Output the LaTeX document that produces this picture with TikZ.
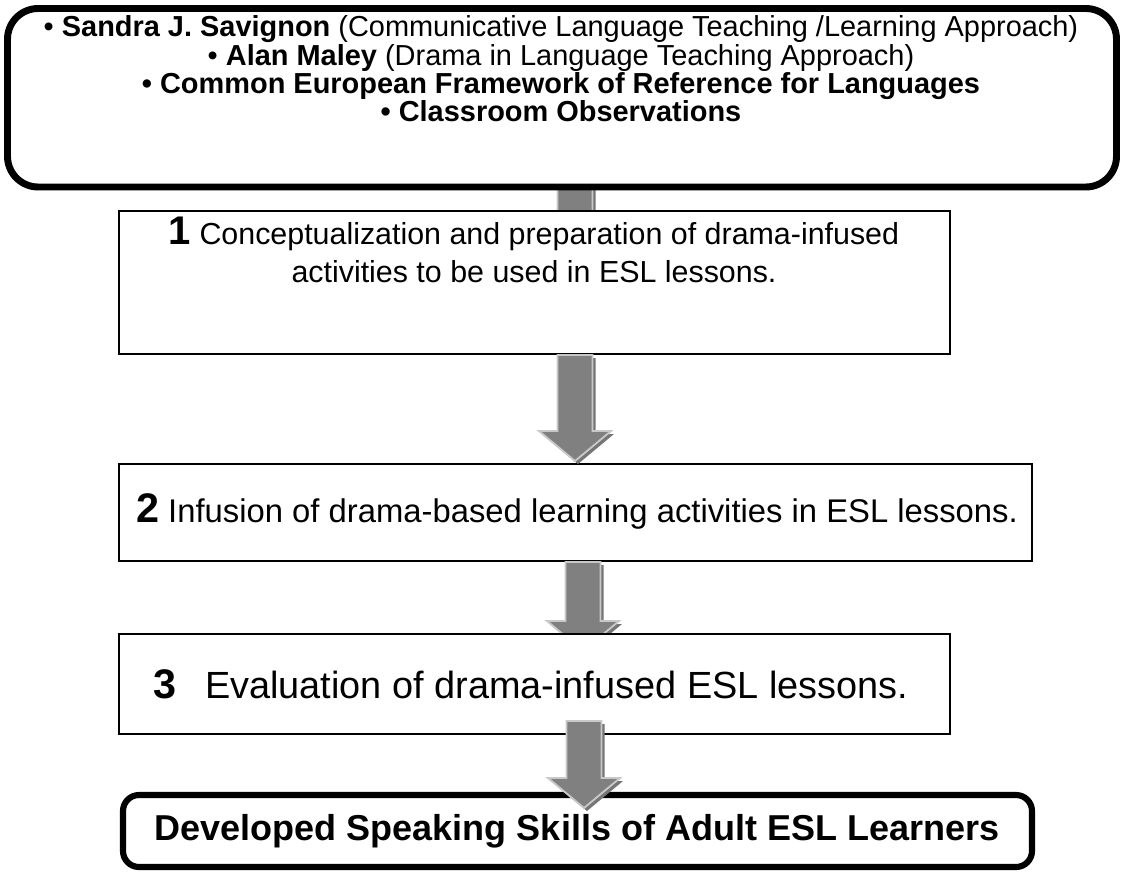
\documentclass[tikz,border=0pt]{standalone}
\usepackage{fontspec}
\setmainfont{Liberation Sans}
\usetikzlibrary{positioning,calc,fit}

\definecolor{arrowgray}{HTML}{808080}
\definecolor{arrowedge}{HTML}{C8C8C8}
\definecolor{arrowshade}{HTML}{767676}

\tikzset{
    framebox/.style={draw, line width=5.2pt, fill=white, inner sep=0pt}, % riquadri spessi
    stepbox/.style={draw, line width=1.3pt, fill=white, inner sep=0pt}, % fasi
    srctext/.style={align=center, inner sep=0pt, font=\fontsize{21.7}{21.2}\selectfont},
    steptext/.style={align=center, inner sep=0pt, font=\fontsize{22.8}{29}\selectfont},
    arrowbody/.style={fill=arrowgray, draw=arrowedge, line width=1.4pt},
    arrowshadow/.style={fill=arrowshade},
}

% freccia a blocco verso il basso: #1 inizio, #2 punta
\newcommand{\flowarrow}[2]{%
    \fill[arrowshadow] ($(#1)+(-14.5,3)$) -- ($(#2)+(-14.5,-27)$) -- ($(#2)+(-33,-27)$) -- ($(#2)+(3,3)$)
        -- ($(#2)+(39,-27)$) -- ($(#2)+(20.5,-27)$) -- ($(#1)+(20.5,3)$) -- cycle;
    \filldraw[arrowbody] ($(#1)+(-17.5,0)$) -- ($(#2)+(-17.5,-30)$) -- ($(#2)+(-36,-30)$) -- (#2)
        -- ($(#2)+(36,-30)$) -- ($(#2)+(17.5,-30)$) -- ($(#1)+(17.5,0)$) -- cycle;
}

\begin{document}
\begin{tikzpicture}[x=0.75pt, y=-0.75pt]
    \useasboundingbox (0,0) rectangle (1121,882);

    % Frecce (punti)
    \coordinate (a0top) at (575,150);
    \coordinate (a0tip) at (575,300);
    \coordinate (a1top) at (575,355);
    \coordinate (a1tip) at (575,461);
    \coordinate (a2top) at (583,562);
    \coordinate (a2tip) at (583,651);
    \coordinate (a3top) at (584,721);
    \coordinate (a3tip) at (584,808);

    \flowarrow{a0top}{a0tip}

    % Fonti
    \node[framebox, rounded corners=23pt, fit={(7.5,8.5) (1116.5,187)}] (sources) {};
    \node[srctext] (sourcelist) at (561,69) {%
        \textbullet\ \textbf{Sandra J. Savignon} (Communicative Language Teaching /Learning Approach)\\
        \textbullet\ \textbf{Alan Maley} (Drama in Language Teaching Approach)\\
        \textbf{\textbullet\ Common European Framework of Reference for Languages}\\
        \textbf{\textbullet\ Classroom Observations}};

    % Fasi
    \node[stepbox, fit={(119,211) (950,354)}] (step1) {};
    \node[steptext] (step1text) at (534,250) {%
        {\fontsize{30}{30}\selectfont\bfseries 1} Conceptualization and preparation of drama-infused\\
        activities to be used in ESL lessons.};

    \node[stepbox, fit={(119,464) (1032,561)}] (step2) {};
    \node[steptext, font=\fontsize{24.6}{29}\selectfont] (step2text) at (577,511) {%
        {\fontsize{31}{31}\selectfont\bfseries 2} Infusion of drama-based learning activities in ESL lessons.};

    \flowarrow{a1top}{a1tip}
    \flowarrow{a2top}{a2tip}

    \node[stepbox, fit={(119,634) (950,734)}] (step3) {};
    \node[steptext, font=\fontsize{28.4}{29}\selectfont] (step3text) at (531,684) {%
        {\fontsize{31}{31}\selectfont\bfseries 3}\hspace{0.75em}Evaluation of drama-infused ESL lessons.};

    % Risultato
    \node[framebox, line width=4.6pt, rounded corners=12pt, fit={(123,795) (1032,867)}] (result) {};
    \node[font=\fontsize{27}{27}\selectfont\bfseries, inner sep=0pt] (resulttext) at (577,831)
        {Developed Speaking Skills of Adult ESL Learners};

    \flowarrow{a3top}{a3tip}
\end{tikzpicture}
\end{document}
